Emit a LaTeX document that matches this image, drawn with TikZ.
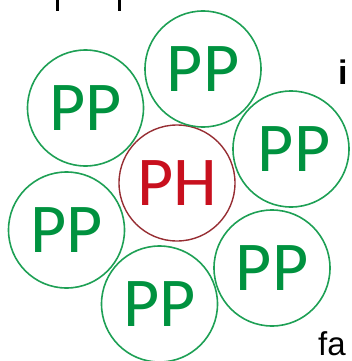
\documentclass[tikz,border=0pt]{standalone}
\usepackage{fontspec}
\setmainfont{Carlito}
\newfontfamily\arialfont{Liberation Sans}
\definecolor{ppgreen}{RGB}{0,146,63}
\definecolor{ppline}{RGB}{30,160,85}
\definecolor{phred}{RGB}{200,16,30}
\definecolor{phline}{RGB}{150,45,50}
\begin{document}
\begin{tikzpicture}[x=1pt,y=-1pt,
  pp/.style={circle,draw=ppline,line width=1.6pt,minimum size=116pt,inner sep=0pt,
    text=ppgreen,font=\fontsize{70}{70}\selectfont},
  ph/.style={circle,draw=phline,line width=1.4pt,minimum size=116pt,inner sep=0pt,
    text=phred,font=\fontsize{70}{70}\selectfont},
  frag/.style={font=\arialfont\fontsize{33}{33}\selectfont,inner sep=0pt,text=black}]
\useasboundingbox (0,0) rectangle (351,361);
\clip (0,0) rectangle (351,361);
\node[ph] (ph) at (177,183) {\raisebox{-5pt}{PH}};
\node[pp] (top) at (203,69) {PP};
\node[pp] (ul) at (85.5,108) {PP};
\node[pp] (r) at (291,149) {\hspace*{6pt}\raisebox{-2pt}{PP}};
\node[pp] (ll) at (66.5,230) {PP};
\node[pp] (b) at (159.5,304) {PP};
\node[pp] (lr) at (272,268) {PP};
\node[frag,font=\arialfont\bfseries\fontsize{34}{34}\selectfont,anchor=base west] (i) at (338,84) {i};
\node[frag,anchor=base west] (fa) at (318,355) {fa};
\fill[black] (55.5,0) rectangle (58.5,11);
\fill[black] (117.5,0) rectangle (120.5,11);
\end{tikzpicture}
\end{document}
